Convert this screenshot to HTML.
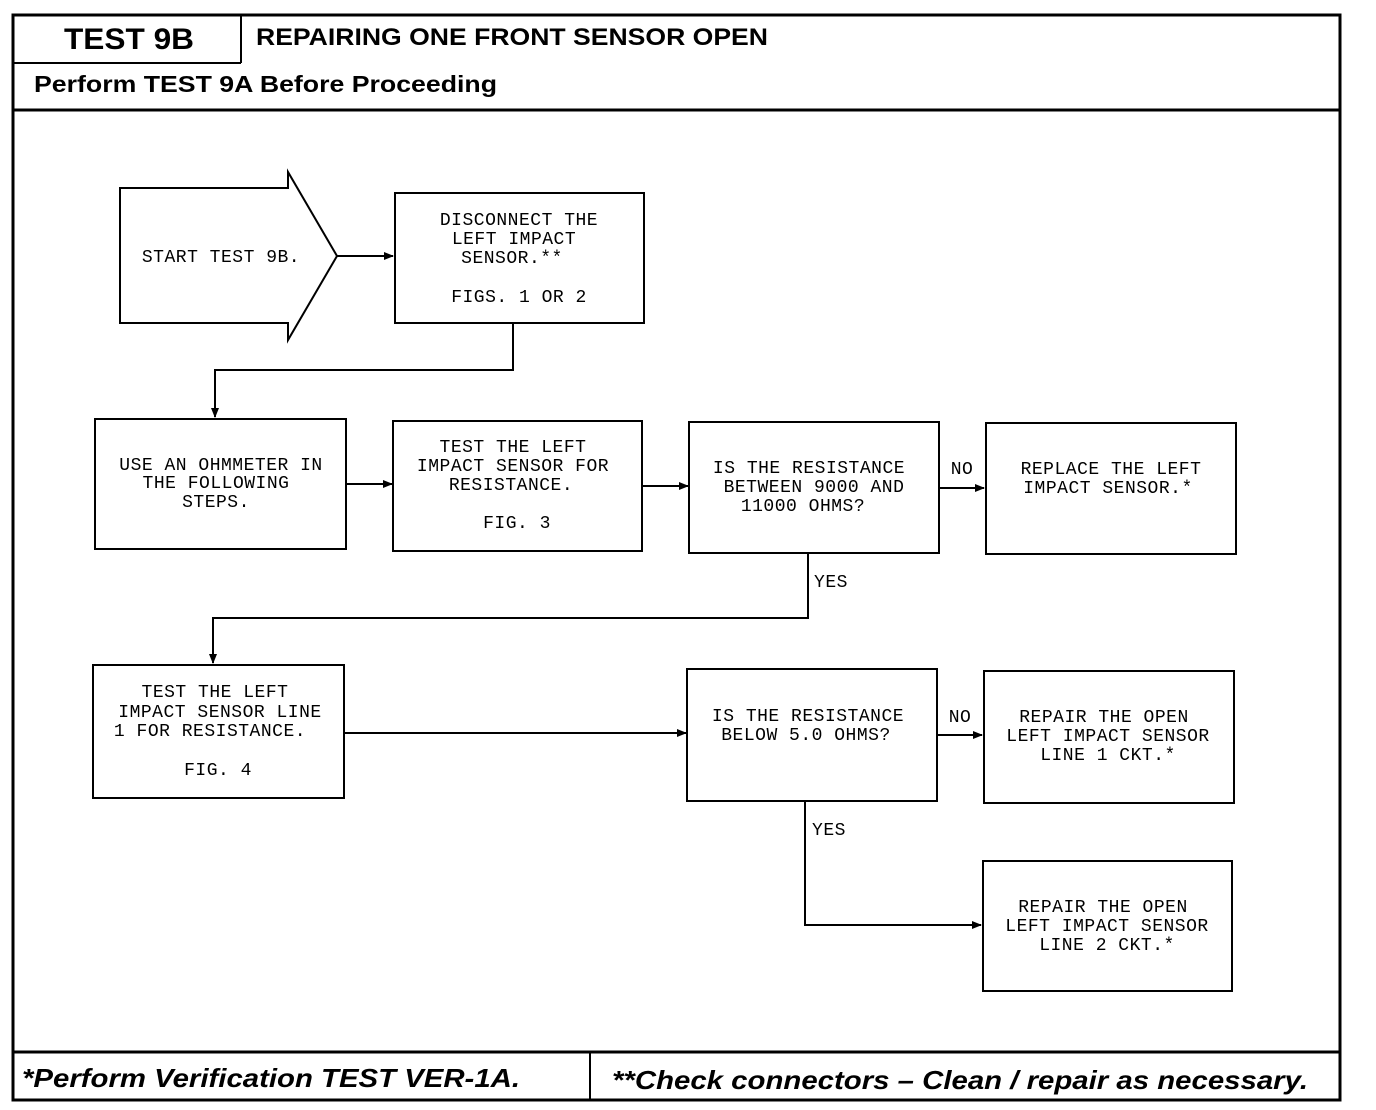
<!DOCTYPE html>
<html><head><style>
html,body{margin:0;padding:0;background:#fff;}
svg{display:block;}
.t{font-family:"Liberation Mono",monospace;font-size:18px;letter-spacing:0.5px;fill:#000;text-anchor:middle;}
.b{fill:#fff;stroke:#000;stroke-width:2;}
.l{fill:none;stroke:#000;stroke-width:2;}
.h{font-family:"Liberation Sans",sans-serif;font-weight:bold;fill:#000;}
</style></head><body>
<svg width="1376" height="1110" viewBox="0 0 1376 1110" xmlns="http://www.w3.org/2000/svg">
<defs><marker id="a" markerWidth="10" markerHeight="8" refX="9" refY="4" orient="auto" markerUnits="userSpaceOnUse"><path d="M0,0 L10,4 L0,8 z" fill="#000"/></marker></defs>
<rect x="13" y="15" width="1327" height="1085" fill="none" stroke="#000" stroke-width="3"/>
<line x1="13" y1="63" x2="241" y2="63" stroke="#000" stroke-width="2"/>
<line x1="241" y1="15" x2="241" y2="63" stroke="#000" stroke-width="2"/>
<line x1="13" y1="110" x2="1340" y2="110" stroke="#000" stroke-width="3"/>
<line x1="13" y1="1052" x2="1340" y2="1052" stroke="#000" stroke-width="3"/>
<line x1="590" y1="1052" x2="590" y2="1100" stroke="#000" stroke-width="2"/>
<text class="h" x="64" y="49" font-size="30" textLength="130" lengthAdjust="spacingAndGlyphs">TEST 9B</text>
<text class="h" x="256" y="45" font-size="24" textLength="512" lengthAdjust="spacingAndGlyphs">REPAIRING ONE FRONT SENSOR OPEN</text>
<text class="h" x="34" y="92" font-size="23" textLength="463" lengthAdjust="spacingAndGlyphs">Perform TEST 9A Before Proceeding</text>
<text class="h" x="22" y="1087" font-size="26" font-style="italic" textLength="498" lengthAdjust="spacingAndGlyphs">*Perform Verification TEST VER-1A.</text>
<text class="h" x="612" y="1089" font-size="26" font-style="italic" textLength="696" lengthAdjust="spacingAndGlyphs">**Check connectors – Clean / repair as necessary.</text>
<polygon class="b" points="120,188 288,188 288,172 337,256 288,340 288,323 120,323"/>
<text class="t" x="221" y="262">START TEST 9B.</text>
<rect class="b" x="395" y="193" width="249" height="130"/>
<text class="t" x="519" y="225">DISCONNECT THE</text>
<text class="t" x="514" y="244">LEFT IMPACT</text>
<text class="t" x="512" y="263">SENSOR.**</text>
<text class="t" x="519" y="302">FIGS. 1 OR 2</text>
<line class="l" x1="337" y1="256" x2="393" y2="256" marker-end="url(#a)"/>
<polyline class="l" points="513,323 513,370 215,370 215,417" marker-end="url(#a)"/>
<rect class="b" x="95" y="419" width="251" height="130"/>
<text class="t" x="221" y="470">USE AN OHMMETER IN</text>
<text class="t" x="216" y="488">THE FOLLOWING</text>
<text class="t" x="216" y="507">STEPS.</text>
<line class="l" x1="346" y1="484" x2="392" y2="484" marker-end="url(#a)"/>
<rect class="b" x="393" y="421" width="249" height="130"/>
<text class="t" x="513" y="452">TEST THE LEFT</text>
<text class="t" x="513" y="471">IMPACT SENSOR FOR</text>
<text class="t" x="511" y="490">RESISTANCE.</text>
<text class="t" x="517" y="528">FIG. 3</text>
<line class="l" x1="642" y1="486" x2="688" y2="486" marker-end="url(#a)"/>
<rect class="b" x="689" y="422" width="250" height="131"/>
<text class="t" x="809" y="473">IS THE RESISTANCE</text>
<text class="t" x="814" y="492">BETWEEN 9000 AND</text>
<text class="t" x="803" y="511">11000 OHMS?</text>
<text class="t" x="962" y="474">NO</text>
<line class="l" x1="939" y1="488" x2="984" y2="488" marker-end="url(#a)"/>
<rect class="b" x="986" y="423" width="250" height="131"/>
<text class="t" x="1111" y="474">REPLACE THE LEFT</text>
<text class="t" x="1108" y="493">IMPACT SENSOR.*</text>
<text class="t" x="831" y="587">YES</text>
<polyline class="l" points="808,553 808,618 213,618 213,663" marker-end="url(#a)"/>
<rect class="b" x="93" y="665" width="251" height="133"/>
<text class="t" x="215" y="697">TEST THE LEFT</text>
<text class="t" x="220" y="717">IMPACT SENSOR LINE</text>
<text class="t" x="210" y="736">1 FOR RESISTANCE.</text>
<text class="t" x="218" y="775">FIG. 4</text>
<line class="l" x1="344" y1="733" x2="686" y2="733" marker-end="url(#a)"/>
<rect class="b" x="687" y="669" width="250" height="132"/>
<text class="t" x="808" y="721">IS THE RESISTANCE</text>
<text class="t" x="806" y="740">BELOW 5.0 OHMS?</text>
<text class="t" x="960" y="722">NO</text>
<line class="l" x1="937" y1="735" x2="982" y2="735" marker-end="url(#a)"/>
<rect class="b" x="984" y="671" width="250" height="132"/>
<text class="t" x="1104" y="722">REPAIR THE OPEN</text>
<text class="t" x="1108" y="741">LEFT IMPACT SENSOR</text>
<text class="t" x="1108" y="760">LINE 1 CKT.*</text>
<text class="t" x="829" y="835">YES</text>
<polyline class="l" points="805,801 805,925 981,925" marker-end="url(#a)"/>
<rect class="b" x="983" y="861" width="249" height="130"/>
<text class="t" x="1103" y="912">REPAIR THE OPEN</text>
<text class="t" x="1107" y="931">LEFT IMPACT SENSOR</text>
<text class="t" x="1107" y="950">LINE 2 CKT.*</text>
</svg>
</body></html>
